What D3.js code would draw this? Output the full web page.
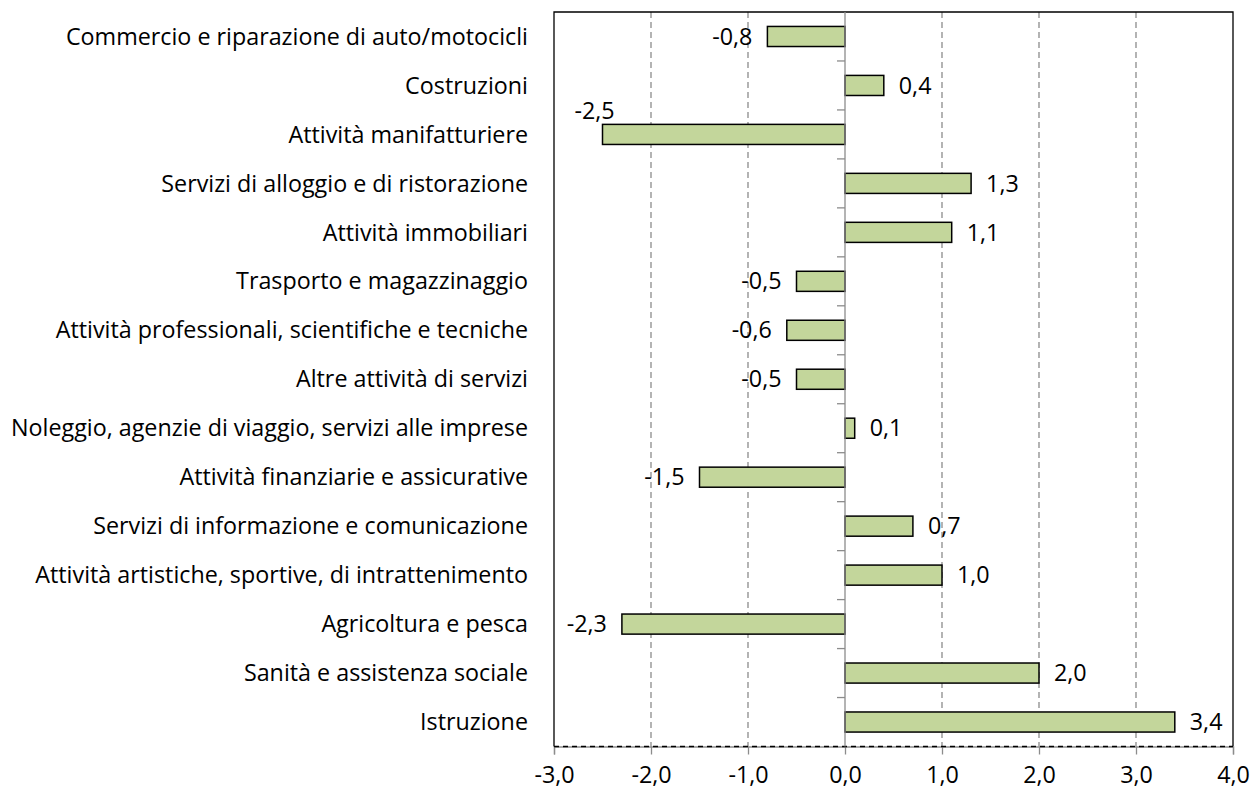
<!DOCTYPE html>
<html><head><meta charset="utf-8">
<script src="https://cdn.jsdelivr.net/npm/d3@7"></script>
<style>body{margin:0;background:#fff}svg{display:block}</style>
</head><body>
<svg id="c" width="1254" height="793"></svg>
<script>
const categories = [
  "Commercio e riparazione di auto/motocicli",
  "Costruzioni",
  "Attività manifatturiere",
  "Servizi di alloggio e di ristorazione",
  "Attività immobiliari",
  "Trasporto e magazzinaggio",
  "Attività professionali, scientifiche e tecniche",
  "Altre attività di servizi",
  "Noleggio, agenzie di viaggio, servizi alle imprese",
  "Attività finanziarie e assicurative",
  "Servizi di informazione e comunicazione",
  "Attività artistiche, sportive, di intrattenimento",
  "Agricoltura e pesca",
  "Sanità e assistenza sociale",
  "Istruzione"
];
const values = [-0.8, 0.4, -2.5, 1.3, 1.1, -0.5, -0.6, -0.5, 0.1, -1.5, 0.7, 1.0, -2.3, 2.0, 3.4];
const xTicks = [-3, -2, -1, 0, 1, 2, 3, 4];

const fmt = v => v.toFixed(1).replace(".", ",");
const font = "'Open Sans', sans-serif";
const fs = 23.3;
const svg = d3.select("#c");
const L = 554, R = 1233, T = 12, B = 746.5;
const x = d3.scaleLinear().domain([-3, 4]).range([L, R]);
const y = d3.scaleBand().domain(categories).range([T, B]).paddingInner(0.59).paddingOuter(0.295);
const band = (B - T) / categories.length;

// gridlines
svg.append("g").selectAll("line").data(xTicks.filter(t => t !== -3 && t !== 4 && t !== 0))
  .join("line").attr("x1", d => x(d)).attr("x2", d => x(d)).attr("y1", T).attr("y2", B)
  .attr("stroke", "#8c8c8c").attr("stroke-width", 1.3).attr("stroke-dasharray", "6,4");

// border: left, top, right solid; bottom dashed
svg.append("path").attr("d", `M${L},${B}V${T}H${R}V${B}`).attr("fill", "none").attr("stroke", "#000").attr("stroke-width", 1.3);

// x axis
const xAxis = svg.append("g").attr("transform", `translate(0,${B})`)
  .call(d3.axisBottom(x).tickValues(xTicks).tickFormat(fmt).tickSize(8).tickPadding(12));
xAxis.select(".domain").attr("stroke", "#8c8c8c").attr("stroke-width", 1.3);
xAxis.selectAll(".tick line").attr("stroke", "#8c8c8c").attr("stroke-width", 1.3);
xAxis.selectAll("text").attr("font-family", font).attr("font-size", fs).attr("fill", "#000");
svg.append("line").attr("x1", L).attr("x2", R).attr("y1", B).attr("y2", B)
  .attr("stroke", "#000").attr("stroke-width", 1.3).attr("stroke-dasharray", "5,4");

// bars
svg.append("g").selectAll("rect").data(values).join("rect")
  .attr("x", d => x(Math.min(0, d))).attr("width", d => Math.abs(x(d) - x(0)))
  .attr("y", (d, i) => y(categories[i])).attr("height", y.bandwidth())
  .attr("fill", "#C3D69B").attr("stroke", "#000").attr("stroke-width", 1.5);

// y axis at zero
const yAxisG = svg.append("g");
yAxisG.append("line").attr("x1", x(0)).attr("x2", x(0)).attr("y1", T).attr("y2", B)
  .attr("stroke", "#8c8c8c").attr("stroke-width", 1.3);
yAxisG.selectAll("line.t").data(d3.range(1, categories.length)).join("line").attr("class", "t")
  .attr("x1", x(0) - 8).attr("x2", x(0)).attr("y1", i => T + i * band).attr("y2", i => T + i * band)
  .attr("stroke", "#8c8c8c").attr("stroke-width", 1.3);

// category labels
svg.append("g").selectAll("text").data(categories).join("text")
  .attr("x", 528).attr("y", d => y(d) + y.bandwidth() / 2).attr("dy", "0.35em")
  .attr("text-anchor", "end").attr("font-family", font).attr("font-size", fs).attr("fill", "#000")
  .text(d => d);

// value labels
svg.append("g").selectAll("text").data(values).join("text")
  .attr("x", d => d < -2.4 ? x(d) - 8 : (d >= 0 ? x(d) + 15 : x(d) - 15))
  .attr("y", (d, i) => d < -2.4 ? y(categories[i]) - 14 : y(categories[i]) + y.bandwidth() / 2)
  .attr("dy", "0.35em")
  .attr("text-anchor", d => d < -2.4 ? "middle" : (d >= 0 ? "start" : "end"))
  .attr("font-family", font).attr("font-size", fs).attr("fill", "#000")
  .text(fmt);
</script>
</body></html>
